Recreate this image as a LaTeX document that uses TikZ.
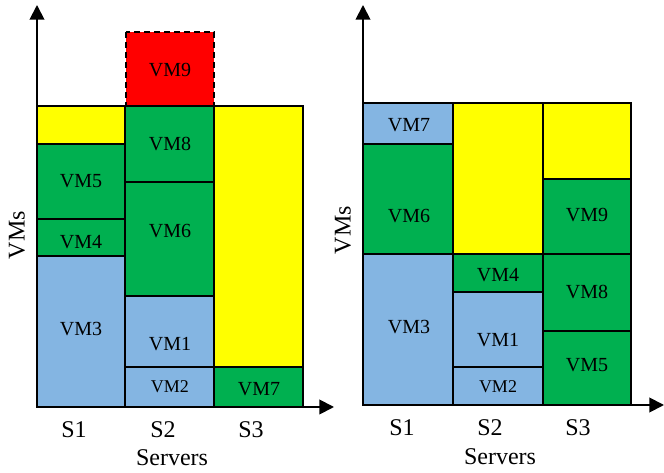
\documentclass[tikz,border=0pt]{standalone}
\usepackage{fontspec}
\setmainfont{Liberation Serif}
\usetikzlibrary{arrows.meta}
\definecolor{vmgreen}{RGB}{0,176,80}
\definecolor{vmyellow}{RGB}{255,255,0}
\definecolor{vmblue}{RGB}{132,181,226}
\definecolor{vmred}{RGB}{255,0,0}
\tikzset{
  box/.style={draw=black, line width=1.5pt},
  gbox/.style={box, fill=vmgreen},
  ybox/.style={box, fill=vmyellow},
  bbox/.style={box, fill=vmblue},
  rbox/.style={draw=black, line width=1.3pt, dash pattern=on 4.5pt off 3pt, fill=vmred},
  vml/.style={font=\fontsize{15}{15}\selectfont, inner sep=0pt},
  vmls/.style={font=\fontsize{13.5}{13.5}\selectfont, inner sep=0pt},
  axl/.style={font=\fontsize{18}{18}\selectfont, inner sep=0pt},
  axis/.style={line width=1.4pt, -{Triangle[width=11pt,length=11pt]}},
}
\begin{document}
\begin{tikzpicture}[x=0.75pt,y=-0.75pt]
\useasboundingbox (0,0) rectangle (664,473);
% ---------- left panel ----------
\coordinate (lo) at (37,407);
\coordinate (lx) at (334,407);
\coordinate (ly) at (37,5);
% S1
\draw[ybox] (37,106) rectangle (125,144);
\draw[gbox] (37,144) rectangle (125,219);
\draw[gbox] (37,219) rectangle (125,256);
\begin{scope}
\clip (37,235) rectangle (125,256);
\node[vml] (l4) at (81,242) {VM4};
\end{scope}
\draw[bbox] (37,256) rectangle (125,407);
\node[vml] (l5) at (81,181) {VM5};
\node[vml] (l3) at (81,329) {VM3};
% S2
\draw[rbox] (126,32) rectangle (214,106);
\draw[gbox] (125,106) rectangle (214,182);
\draw[gbox] (125,182) rectangle (214,296);
\draw[bbox] (125,296) rectangle (214,367);
\draw[bbox] (125,367) rectangle (214,407);
\node[vml] (l9) at (170,70) {VM9};
\node[vml] (l8) at (170,144) {VM8};
\node[vml] (l6) at (170,231) {VM6};
\node[vml] (l1) at (170,344) {VM1};
\node[vmls] (l2) at (170,387) {VM2};
% S3
\draw[ybox] (214,106) rectangle (303,367);
\draw[gbox] (214,367) rectangle (303,407);
\node[vml] (l7) at (259,389) {VM7};
% axes
\draw[axis] (lo) -- (lx);
\draw[axis] (lo) -- (ly);
\node[axl] (ls1) at (74,430) {S1};
\node[axl] (ls2) at (163,430) {S2};
\node[axl] (ls3) at (251,430) {S3};
\node[axl] (lsv) at (172,458) {Servers};
\node[axl, rotate=90] (lvm) at (17,235) {VMs};
% ---------- right panel ----------
\coordinate (ro) at (363,405);
\coordinate (rx) at (664,405);
\coordinate (ry) at (363,5);
% S1
\draw[bbox] (363,103) rectangle (453,144);
\draw[gbox] (363,144) rectangle (453,254);
\draw[bbox] (363,254) rectangle (453,405);
\node[vml] (r7) at (409,125) {VM7};
\node[vml] (r6) at (409,216) {VM6};
\node[vml] (r3) at (409,327) {VM3};
% S2
\draw[ybox] (453,103) rectangle (543,254);
\draw[gbox] (453,254) rectangle (543,292);
\draw[bbox] (453,292) rectangle (543,367);
\draw[bbox] (453,367) rectangle (543,405);
\node[vml] (r4) at (498,275) {VM4};
\node[vml] (r1) at (498,340) {VM1};
\node[vmls] (r2) at (498,387) {VM2};
% S3
\draw[ybox] (543,103) rectangle (631,179);
\draw[gbox] (543,179) rectangle (631,254);
\draw[gbox] (543,254) rectangle (631,331);
\draw[gbox] (543,331) rectangle (631,405);
\node[vml] (r9) at (587,215) {VM9};
\node[vml] (r8) at (587,292) {VM8};
\node[vml] (r5) at (587,365) {VM5};
% axes
\draw[axis] (ro) -- (rx);
\draw[axis] (ro) -- (ry);
\node[axl] (rs1) at (402,428) {S1};
\node[axl] (rs2) at (490,428) {S2};
\node[axl] (rs3) at (578,428) {S3};
\node[axl] (rsv) at (500,457) {Servers};
\node[axl, rotate=90] (rvm) at (343,230) {VMs};
\end{tikzpicture}
\end{document}
